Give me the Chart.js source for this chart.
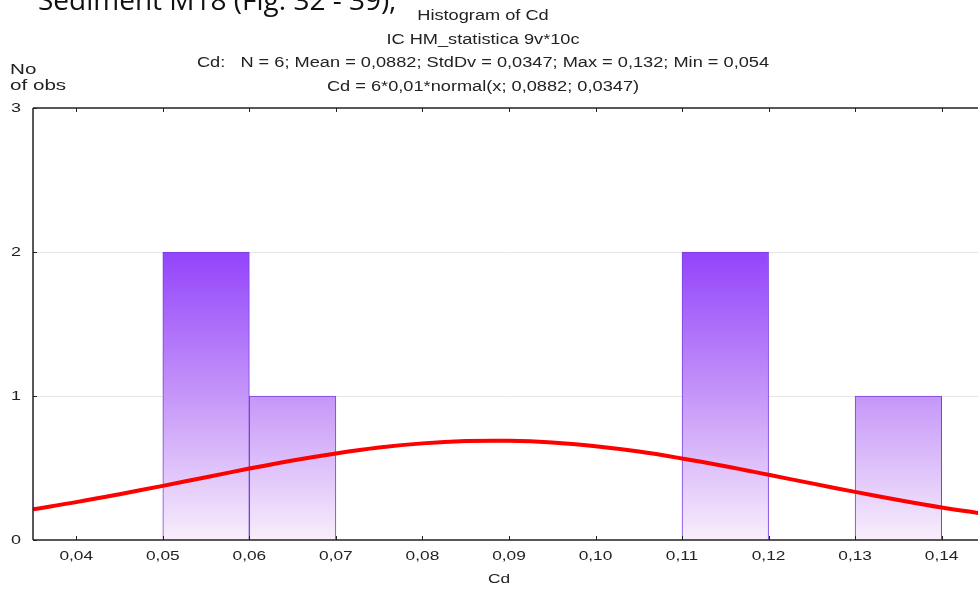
<!DOCTYPE html>
<html>
<head>
<meta charset="utf-8">
<script src="https://cdn.jsdelivr.net/npm/chart.js@4/dist/chart.umd.min.js"></script>
<style>
  html, body { margin: 0; padding: 0; background: #fff; }
  #wrap { width: 978px; height: 592px; position: relative; }
</style>
</head>
<body>
<div id="wrap"><canvas id="histCanvas"></canvas></div>
<script>
////////////data////////////
// histogram bins (lower edge) and counts, bin width 0.01
var binLow = [0.05, 0.06, 0.11, 0.13];
var binCounts = [2, 1, 2, 1];
var binWidth = 0.01;

// fitted normal curve read along the axis
var curveX = [0.035, 0.04, 0.045, 0.05, 0.055, 0.06, 0.065, 0.07, 0.075, 0.08, 0.085, 0.09,
	0.095, 0.10, 0.105, 0.11, 0.115, 0.12, 0.125, 0.13, 0.135, 0.14, 0.145];
var curveY = [0.213, 0.263, 0.318, 0.376, 0.436, 0.496, 0.552, 0.601, 0.642, 0.671, 0.687, 0.689,
	0.677, 0.651, 0.614, 0.566, 0.512, 0.453, 0.393, 0.334, 0.278, 0.226, 0.181];

var xTicks = [0.04, 0.05, 0.06, 0.07, 0.08, 0.09, 0.10, 0.11, 0.12, 0.13, 0.14];
var yTicks = [0, 1, 2, 3];

var titleLines = [
	'Histogram of Cd',
	'IC HM_statistica 9v*10c',
	'Cd:   N = 6; Mean = 0,0882; StdDv = 0,0347; Max = 0,132; Min = 0,054',
	'Cd = 6*0,01*normal(x; 0,0882; 0,0347)'
];
var titleY = [16, 40, 63, 87];

////////////helpers////////////
var FONT = '"Liberation Sans", Arial, sans-serif';

function commaNum(v) {
	return v.toFixed(2).replace('.', ',');
}

// text drawn wider than tall
function wideText(c, text, x, y, size, align, sx) {
	c.save();
	c.translate(x, y);
	c.scale(sx || 1.33, 1);
	c.font = size + 'px ' + FONT;
	c.textAlign = align || 'center';
	c.textBaseline = 'middle';
	c.fillText(text, 0, 0);
	c.restore();
}

var barPoints = binLow.map(function(lo, i) {
	return { x: lo + binWidth / 2, y: binCounts[i] };
});
var curvePoints = curveX.map(function(x, i) {
	return { x: x, y: curveY[i] };
});

// vertical gradient fixed to the value axis, darker toward the top
function barGradient(ctx) {
	var chart = ctx.chart;
	if (!chart.chartArea) return '#c79bfd';
	var y = chart.scales.y;
	var g = chart.ctx.createLinearGradient(0, y.getPixelForValue(2), 0, y.getPixelForValue(0));
	g.addColorStop(0, '#9344fb');
	g.addColorStop(0.5, '#c596f8');
	g.addColorStop(1, '#f8eefc');
	return g;
}

////////////frame, ticks and texts////////////
var decorPlugin = {
	id: 'decor',
	afterDatasetsDraw: function(chart) {
		var c = chart.ctx, a = chart.chartArea, xs = chart.scales.x, ys = chart.scales.y;
		c.save();
		c.strokeStyle = '#222';
		c.lineWidth = 1.5;
		c.beginPath();
		c.moveTo(a.left, a.top); c.lineTo(a.right, a.top);
		c.moveTo(a.left, a.top); c.lineTo(a.left, a.bottom);
		c.moveTo(a.left, a.bottom); c.lineTo(a.right, a.bottom);
		c.stroke();
		// small inside ticks
		c.lineWidth = 1;
		c.beginPath();
		xTicks.forEach(function(v) {
			var px = Math.round(xs.getPixelForValue(v)) + 0.5;
			c.moveTo(px, a.top); c.lineTo(px, a.top + 4);
			c.moveTo(px, a.bottom); c.lineTo(px, a.bottom - 4);
		});
		yTicks.forEach(function(v) {
			var py = Math.round(ys.getPixelForValue(v)) + 0.5;
			c.moveTo(a.left, py); c.lineTo(a.left + 4, py);
		});
		c.stroke();
		c.restore();
	},
	afterDraw: function(chart) {
		var c = chart.ctx, xs = chart.scales.x, ys = chart.scales.y;
		c.save();
		// caption cut by the top edge
		c.fillStyle = '#111';
		c.font = '28px "Open Sans", "Liberation Sans", sans-serif';
		c.textAlign = 'left';
		c.textBaseline = 'alphabetic';
		c.fillText('Sediment M18 (Fig. 32 - 39);', 38, 10);

		c.fillStyle = '#222';
		titleLines.forEach(function(t, i) {
			wideText(c, t, 483, titleY[i], 14, 'center', 1.3);
		});
		wideText(c, 'No', 10, 70, 15.5, 'left');
		wideText(c, 'of obs', 10, 86, 15.5, 'left');

		// axis labels
		xTicks.forEach(function(v) {
			wideText(c, commaNum(v), xs.getPixelForValue(v), 556, 13);
		});
		yTicks.forEach(function(v) {
			wideText(c, String(v), 21, ys.getPixelForValue(v), 13.5, 'right');
		});
		wideText(c, 'Cd', 499, 579, 13);
		c.restore();
	}
};

////////////create chart////////////
var histChart = new Chart(document.getElementById('histCanvas'), {
	type: 'bar',
	data: {
		datasets: [{
			type: 'line',
			label: 'normal',
			data: curvePoints,
			borderColor: '#ff0000',
			borderWidth: 4,
			pointRadius: 0,
			tension: 0.4,
			fill: false,
			order: 0
		}, {
			label: 'Cd',
			data: barPoints,
			backgroundColor: barGradient,
			borderColor: '#7a3fe0',
			borderWidth: 1,
			borderSkipped: 'bottom',
			barPercentage: 1,
			categoryPercentage: 1,
			grouped: false,
			order: 1
		}]
	},
	options: {
		responsive: true,
		maintainAspectRatio: false,
		animation: false,
		layout: { padding: { top: 108, right: 0, bottom: 0, left: 0 } },
		plugins: {
			legend: { display: false },
			tooltip: { enabled: false }
		},
		scales: {
			x: {
				type: 'linear',
				min: 0.035,
				max: 0.1442,
				offset: false,
				afterBuildTicks: function(scale) {
					scale.ticks = xTicks.map(function(v) { return { value: v }; });
				},
				afterFit: function(scale) { scale.height = 52; },
				grid: { display: false, drawTicks: false },
				border: { display: false },
				ticks: { display: false }
			},
			y: {
				min: 0,
				max: 3,
				afterBuildTicks: function(scale) {
					scale.ticks = yTicks.map(function(v) { return { value: v }; });
				},
				afterFit: function(scale) { scale.width = 33; },
				grid: {
					drawTicks: false,
					color: function(ctx) {
						return (ctx.tick && (ctx.tick.value === 1 || ctx.tick.value === 2)) ? '#e6e6e6' : 'rgba(0,0,0,0)';
					}
				},
				border: { display: false },
				ticks: { display: false }
			}
		}
	},
	plugins: [decorPlugin]
}); //end new Chart
</script>
</body>
</html>
